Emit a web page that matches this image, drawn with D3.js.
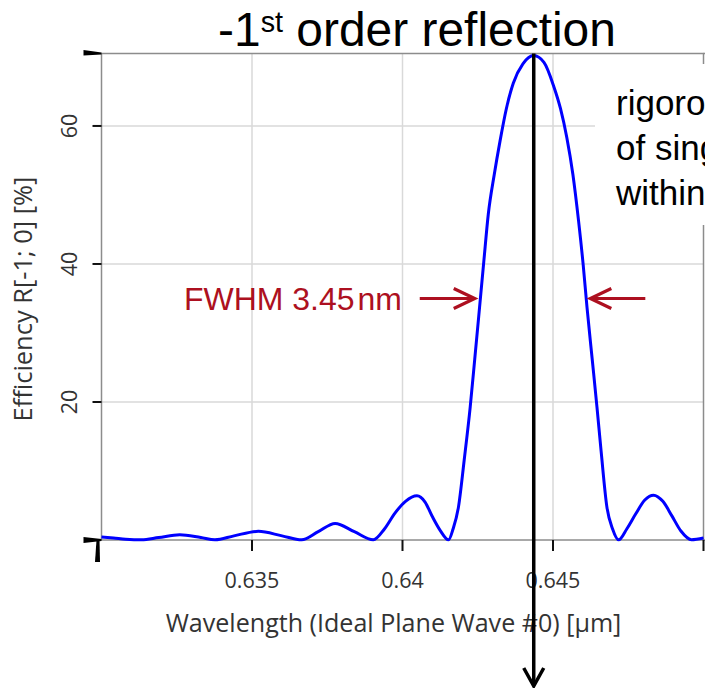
<!DOCTYPE html>
<html>
<head>
<meta charset="utf-8">
<script src="https://cdn.jsdelivr.net/npm/d3@7/dist/d3.min.js"></script>
<style>
  html, body { margin: 0; padding: 0; background: #fff; overflow: hidden; }
  svg { display: block; }
</style>
</head>
<body>
<svg id="chart" width="705" height="688"></svg>
<script>
// ---------------- data ----------------
const wavelength = [
  0.6300, 0.6304, 0.6308, 0.63133, 0.6319, 0.6326, 0.6333, 0.63377,
  0.6344, 0.63521, 0.6360, 0.63665, 0.6372, 0.63776, 0.6384, 0.63903,
  0.6394, 0.63975, 0.64010, 0.64048, 0.64075, 0.64099, 0.64125, 0.64153,
  0.64168, 0.64186, 0.64205, 0.64225, 0.6424, 0.64256, 0.6427, 0.64285,
  0.64305, 0.64324, 0.64345, 0.64368, 0.6440, 0.64436, 0.6447, 0.64502,
  0.64525, 0.64546, 0.64566, 0.64585, 0.6460, 0.64613, 0.6463, 0.64646,
  0.6466, 0.64679, 0.64698, 0.64718, 0.64745, 0.64775, 0.64805, 0.64834,
  0.64865, 0.64895, 0.64925, 0.6496, 0.6500
];
const efficiency = [
  0.45, 0.3, 0.12, 0.02, 0.35, 0.75, 0.35, 0.02,
  0.6, 1.25, 0.6, 0.02, 1.2, 2.4, 1.2, 0.02,
  1.6, 3.9, 5.6, 6.4, 5.5, 3.4, 1.4, 0.02,
  1.6, 4.8, 11.6, 19.3, 26.2, 33.7, 40.3, 47.2,
  53.0, 57.8, 62.5, 66.2, 69.0, 70.2, 69.2, 65.8,
  62.5, 58.3, 53.0, 46.2, 40.0, 33.7, 26.3, 19.3,
  12.8, 4.8, 1.6, 0.02, 1.6, 3.8, 5.8, 6.5,
  5.6, 3.5, 1.3, 0.05, 0.3
];
const xDomain = [0.630, 0.650];
const yDomain = [0, 70.5];
const xTicks = [0.635, 0.64, 0.645, 0.650];
const xTickLabels = ["0.635", "0.64", "0.645", ""];
const yTicks = [20, 40, 60];
const yTickLabels = ["20", "40", "60"];
const peakWavelength = 0.64436;
const halfMax = 35;
const fwhmLeftTip = 0.64240;
const fwhmRightTip = 0.64624;
const titleMain = "-1";
const titleSup = "st";
const titleRest = " order reflection";
const xTitle = "Wavelength (Ideal Plane Wave #0) [µm]";
const yTitle = "Efficiency R[-1; 0] [%]";
const fwhmLabel = "FWHM 3.45";
const fwhmUnit = "nm";
const sideNote = ["rigorous", "of single", "within"];

// ---------------- layout ----------------
const svg = d3.select("#chart");
const pLeft = 101.5, pRight = 703.5, pTop = 53.5, pBottom = 540;
const x = d3.scaleLinear().domain(xDomain).range([pLeft, pRight]);
const y = d3.scaleLinear().domain(yDomain).range([pBottom, pTop]);

const uiFont = "'Open Sans', 'Noto Sans', sans-serif";
const arial = "'Liberation Sans', Arial, sans-serif";
const gridColor = "#d9d9d9";
const axisColor = "#8c8c8c";
const labelColor = "#333";
const red = "#ad1020";

function fitWidth(sel, target) {
  const w = sel.node().getComputedTextLength();
  const fs = parseFloat(sel.attr("font-size"));
  sel.attr("font-size", fs * target / w);
  return fs * target / w;
}

// gridlines
svg.append("g").selectAll("line").data(xTicks.slice(0, 3)).join("line")
  .attr("x1", d => x(d)).attr("x2", d => x(d))
  .attr("y1", pTop).attr("y2", pBottom)
  .attr("stroke", gridColor).attr("stroke-width", 1.5);
svg.append("g").selectAll("line").data(yTicks).join("line")
  .attr("x1", pLeft).attr("x2", pRight)
  .attr("y1", d => y(d)).attr("y2", d => y(d))
  .attr("stroke", gridColor).attr("stroke-width", 1.5);

// frame
svg.append("rect")
  .attr("x", pLeft).attr("y", pTop)
  .attr("width", pRight - pLeft).attr("height", pBottom - pTop)
  .attr("fill", "none").attr("stroke", axisColor).attr("stroke-width", 1.5);
svg.append("line").attr("x1", pRight).attr("x2", 705).attr("y1", pTop).attr("y2", pTop)
  .attr("stroke", axisColor).attr("stroke-width", 1.5);
svg.append("line").attr("x1", pRight).attr("x2", 705).attr("y1", pBottom).attr("y2", pBottom)
  .attr("stroke", axisColor).attr("stroke-width", 1.5);

// y ticks
svg.append("g").selectAll("line").data(yTicks).join("line")
  .attr("x1", pLeft - 9).attr("x2", pLeft)
  .attr("y1", d => y(d)).attr("y2", d => y(d))
  .attr("stroke", "#111").attr("stroke-width", 2);
// x ticks
svg.append("g").selectAll("line").data(xTicks).join("line")
  .attr("x1", d => x(d)).attr("x2", d => x(d))
  .attr("y1", pBottom).attr("y2", pBottom + 11)
  .attr("stroke", "#111").attr("stroke-width", 2);

// end-of-axis wedge marks
const yTopPx = y(yDomain[1]), y0px = y(0), x0px = x(xDomain[0]);
svg.append("path")
  .attr("d", `M${x0px - 18},${yTopPx - 3.5} L${x0px},${yTopPx - 1} L${x0px},${yTopPx + 1} L${x0px - 18},${yTopPx + 2} Z`)
  .attr("fill", "#000");
svg.append("path")
  .attr("d", `M${x0px - 18},${y0px - 3} L${x0px},${y0px - 1} L${x0px},${y0px + 1} L${x0px - 18},${y0px + 3} Z`)
  .attr("fill", "#000");
svg.append("path")
  .attr("d", `M${x0px - 5},${y0px} L${x0px - 2},${y0px} L${x0px - 1.5},${y0px + 22} L${x0px - 6.5},${y0px + 22} Z`)
  .attr("fill", "#000");

// tick labels
svg.append("g").selectAll("text").data(xTicks).join("text")
  .attr("x", d => x(d)).attr("y", 587.5)
  .attr("text-anchor", "middle")
  .attr("font-family", uiFont).attr("font-size", 21.5)
  .attr("fill", labelColor)
  .text((d, i) => xTickLabels[i]);
svg.append("g").selectAll("text").data(yTicks).join("text")
  .attr("transform", d => `translate(77,${y(d)}) rotate(-90)`)
  .attr("text-anchor", "middle")
  .attr("font-family", uiFont).attr("font-size", 21.5)
  .attr("fill", labelColor)
  .text((d, i) => yTickLabels[i]);

// axis titles
const xt = svg.append("text")
  .attr("x", 393.5).attr("y", 632)
  .attr("text-anchor", "middle")
  .attr("font-family", uiFont).attr("font-size", 21)
  .attr("fill", labelColor).text(xTitle);
fitWidth(xt, 456);
const yt = svg.append("text")
  .attr("transform", "translate(31.5,299) rotate(-90)")
  .attr("text-anchor", "middle")
  .attr("font-family", uiFont).attr("font-size", 21)
  .attr("fill", labelColor).text(yTitle);
fitWidth(yt, 245);

// curve
const pts = wavelength.map((w, i) => [w, efficiency[i]]);
svg.append("path")
  .datum(pts)
  .attr("fill", "none")
  .attr("stroke", "#0000ff")
  .attr("stroke-width", 3)
  .attr("stroke-linejoin", "round")
  .attr("d", d3.line().x(d => x(d[0])).y(d => y(d[1])).curve(d3.curveMonotoneX));

// side note with white background
svg.append("rect").attr("x", 595).attr("y", 64).attr("width", 120).attr("height", 161)
  .attr("fill", "#fff");
svg.append("g").selectAll("text").data(sideNote).join("text")
  .attr("x", 616).attr("y", (d, i) => 115 + i * 45)
  .attr("font-family", arial).attr("font-size", 35)
  .attr("fill", "#000").text(d => d);

// FWHM annotation
const fw = svg.append("text")
  .attr("x", 184).attr("y", 310)
  .attr("font-family", arial).attr("font-size", 31)
  .attr("fill", red);
fw.append("tspan").text(fwhmLabel);
fw.append("tspan").attr("dx", 3).text(fwhmUnit);
fitWidth(fw, 215);

const yHalf = y(halfMax);
function arrow(tipX, dir) {
  const g = svg.append("g").attr("stroke", red).attr("stroke-width", 3.2)
    .attr("fill", "none").attr("stroke-linecap", "butt");
  g.append("line").attr("x1", tipX - dir * 55).attr("x2", tipX - dir * 1.5)
    .attr("y1", yHalf).attr("y2", yHalf);
  g.append("path").attr("d",
    `M${tipX - dir * 21},${yHalf - 10} L${tipX},${yHalf} L${tipX - dir * 21},${yHalf + 10}`)
    .attr("stroke-linejoin", "miter");
}
arrow(x(fwhmLeftTip), 1);
arrow(x(fwhmRightTip), -1);

// peak marker: vertical black arrow
const px = x(peakWavelength);
svg.append("line").attr("x1", px).attr("x2", px).attr("y1", pTop).attr("y2", 685)
  .attr("stroke", "#000").attr("stroke-width", 3.5);
svg.append("path")
  .attr("d", `M${px - 10},${668} L${px},${686} L${px + 10},${668}`)
  .attr("fill", "none").attr("stroke", "#000").attr("stroke-width", 3.5)
  .attr("stroke-linejoin", "miter");

// title
const tt = svg.append("text")
  .attr("x", 417).attr("y", 46)
  .attr("text-anchor", "middle")
  .attr("font-family", arial).attr("font-size", 48)
  .attr("fill", "#000");
tt.append("tspan").text(titleMain);
const sup = tt.append("tspan").style("font-size", "60%").text(titleSup);
const rest = tt.append("tspan").text(titleRest);
const tfs = fitWidth(tt, 398);
sup.attr("dy", -tfs * 0.29);
rest.attr("dy", tfs * 0.29);
</script>
</body>
</html>
